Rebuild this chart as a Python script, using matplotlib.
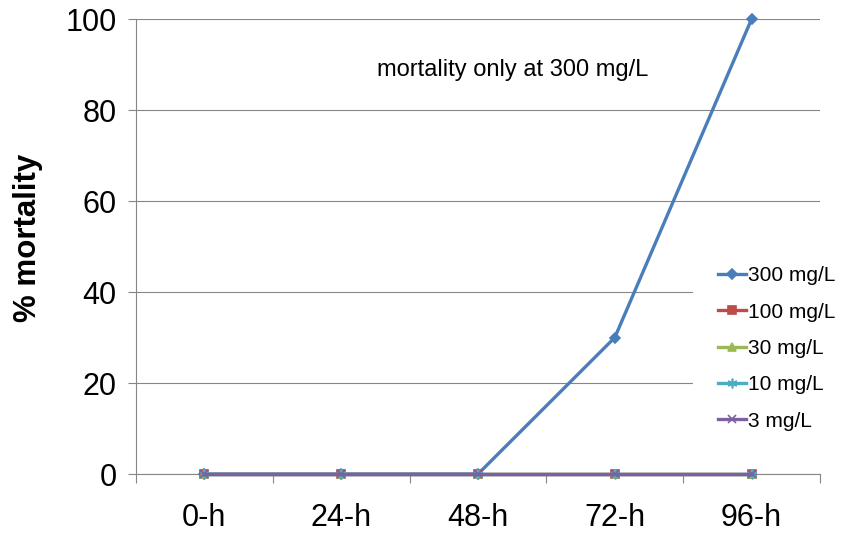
import matplotlib.pyplot as plt

plt.rcParams['font.family'] = ['Liberation Sans', 'DejaVu Sans']

hours = ["0-h", "24-h", "48-h", "72-h", "96-h"]
doses = ["300 mg/L", "100 mg/L", "30 mg/L", "10 mg/L", "3 mg/L"]
mort_300 = [0, 0, 0, 30, 100]
mort_100 = [0, 0, 0, 0, 0]
mort_30 = [0, 0, 0, 0, 0]
mort_10 = [0, 0, 0, 0, 0]
mort_3 = [0, 0, 0, 0, 0]

series = [mort_300, mort_100, mort_30, mort_10, mort_3]
colors = ['#4A7EBB', '#BE4B48', '#98B954', '#4BACC6', '#7D60A0']
marks = ['D', 's', '^', (6, 2, 0), 'x']
sizes = [5, 6, 6, 7, 6]

gray = '#868686'

fig = plt.figure(figsize=(8.42, 5.40), dpi=100)
ax = fig.add_axes([0.1615, 0.1222, 0.8124, 0.8426])

x = list(range(len(hours)))
for vals, lab, col, mk, ms in zip(series, doses, colors, marks, sizes):
    ax.plot(x, vals, color=col, lw=2.4, marker=mk, ms=ms, mfc=col, mec=col,
            mew=1.2, label=lab, clip_on=False, zorder=3)

ax.set_xlim(-0.5, len(hours) - 0.5)
ax.set_ylim(0, 100)
ax.set_yticks([0, 20, 40, 60, 80, 100])

# category labels sit between the boundary tick marks
ax.set_xticks([i - 0.5 for i in range(len(hours) + 1)])
ax.set_xticklabels([])
ax.set_xticks(x, minor=True)
ax.set_xticklabels(hours, minor=True)
ax.tick_params(axis='x', which='major', direction='out', length=6.5, color=gray, width=0.8)
ax.tick_params(axis='x', which='minor', length=0, labelsize=22, pad=21)
ax.tick_params(axis='y', direction='out', length=6, color=gray, width=0.8,
               labelsize=22, pad=8)

ax.yaxis.grid(True, color=gray, lw=0.8)
ax.set_axisbelow(True)
for s in ['top', 'right']:
    ax.spines[s].set_visible(False)
for s in ['left', 'bottom']:
    ax.spines[s].set_color(gray)
    ax.spines[s].set_linewidth(0.8)

ax.set_ylabel('% mortality', fontsize=22.5, fontweight='bold', va='center')
ax.yaxis.set_label_coords(-0.158, 0.519)

ax.text(0.55, 0.888, 'mortality only at 300 mg/L', transform=ax.transAxes,
        ha='center', va='center', fontsize=17)

leg = ax.legend(loc='center left', bbox_to_anchor=(693 / 842, 1 - 348.5 / 540),
                bbox_transform=fig.transFigure, fontsize=15, frameon=True,
                fancybox=False, edgecolor='none', facecolor='white', framealpha=1,
                handlelength=1.35, handletextpad=0.1, labelspacing=0.83,
                borderpad=1.2, borderaxespad=0)

fig.savefig('out.png', dpi=100)
